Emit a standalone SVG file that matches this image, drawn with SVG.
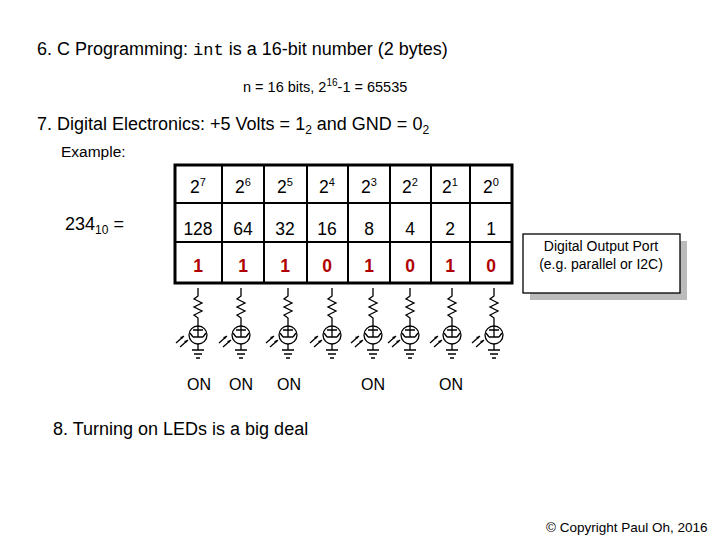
<svg xmlns="http://www.w3.org/2000/svg" width="720" height="540" viewBox="0 0 720 540">
<defs>
<style>
text{font-family:"Liberation Sans",Arial,sans-serif;fill:#000}
.h{font-size:18px}
.s{font-size:14.5px}
.c{font-size:17.5px;text-anchor:middle}
.r{fill:#b00000;font-weight:bold}
.w{fill:none;stroke:#000;stroke-width:1.3}
</style>
<g id="led">
<path class="w" d="M0,288 V296 L-4,299 L4,303 L-4,307 L4,311 L-4,315 L0,318 V326"/>
<circle class="w" cx="0" cy="335" r="9"/>
<path class="w" d="M-5,330 H5 M0,326 V330 M0,330 V337 M-5,337 H5 M0,344 V350 M-6,350 H6 M-4,354 H4 M-2,358 H2"/>
<path class="w" d="M-5,337 L-8,333 M5,337 L8,333"/>
<path class="w" d="M-22,343 L-14,336 M-18,347 L-10,340"/>
<path d="M-14,336 l-4,1 l2,2 z M-10,340 l-4,1 l2,2z" fill="#000"/>
</g>
</defs>
<rect width="720" height="540" fill="#fff"/>
<text x="37" y="55" class="h">6. C Programming: <tspan font-family="Liberation Mono,monospace" font-size="17">int</tspan> is a 16-bit number (2 bytes)</text>
<text x="243" y="92" class="s">n = 16 bits, 2<tspan font-size="10" dy="-6">16</tspan><tspan dy="6">-1 = 65535</tspan></text>
<text x="37" y="130" class="h">7. Digital Electronics: +5 Volts = 1<tspan font-size="12" dy="4">2</tspan><tspan dy="-4"> and GND = 0</tspan><tspan font-size="12" dy="4">2</tspan></text>
<text x="61" y="157" class="s" style="font-size:15.5px">Example:</text>
<text x="65" y="230" class="h">234<tspan font-size="12" dy="4">10</tspan><tspan dy="-4"> =</tspan></text>
<g id="table">
<rect x="175" y="165" width="337" height="118" fill="#fff" stroke="#000" stroke-width="3"/>
<path stroke="#000" stroke-width="2" d="M222,165V283M264,165V283M307,165V283M348,165V283M390,165V283M431,165V283M470,165V283M175,203H512M175,242H512"/>
<g class="c">
<text x="198" y="193">2<tspan font-size="11" dy="-7">7</tspan></text>
<text x="243" y="193">2<tspan font-size="11" dy="-7">6</tspan></text>
<text x="285" y="193">2<tspan font-size="11" dy="-7">5</tspan></text>
<text x="327" y="193">2<tspan font-size="11" dy="-7">4</tspan></text>
<text x="369" y="193">2<tspan font-size="11" dy="-7">3</tspan></text>
<text x="410" y="193">2<tspan font-size="11" dy="-7">2</tspan></text>
<text x="450" y="193">2<tspan font-size="11" dy="-7">1</tspan></text>
<text x="491" y="193">2<tspan font-size="11" dy="-7">0</tspan></text>
<text x="198" y="235">128</text><text x="243" y="235">64</text><text x="285" y="235">32</text><text x="327" y="235">16</text>
<text x="369" y="235">8</text><text x="410" y="235">4</text><text x="450" y="235">2</text><text x="491" y="235">1</text>
<text class="r" x="198" y="272">1</text><text class="r" x="243" y="272">1</text><text class="r" x="285" y="272">1</text><text class="r" x="327" y="272">0</text>
<text class="r" x="369" y="272">1</text><text class="r" x="410" y="272">0</text><text class="r" x="450" y="272">1</text><text class="r" x="491" y="272">0</text>
</g>
</g>
<g id="leds">
<use href="#led" x="198"/><use href="#led" x="241"/><use href="#led" x="288"/><use href="#led" x="332"/>
<use href="#led" x="373"/><use href="#led" x="410"/><use href="#led" x="452"/><use href="#led" x="494"/>
</g>
<g>
<text x="199" y="390" text-anchor="middle" font-size="16">ON</text><text x="241" y="390" text-anchor="middle" font-size="16">ON</text><text x="289" y="390" text-anchor="middle" font-size="16">ON</text>
<text x="373" y="390" text-anchor="middle" font-size="16">ON</text><text x="451" y="390" text-anchor="middle" font-size="16">ON</text>
</g>
<g id="port">
<rect x="530" y="241" width="157" height="59" fill="#bbb"/>
<rect x="523" y="234" width="157" height="59" fill="#fff" stroke="#000" stroke-width="1.3"/>
<text x="601" y="251" font-size="14" text-anchor="middle">Digital Output Port</text>
<text x="601" y="269" font-size="14" text-anchor="middle">(e.g. parallel or I2C)</text>
</g>
<text x="53" y="435" class="h">8. Turning on LEDs is a big deal</text>
<text x="546" y="532" font-size="13.5">© Copyright Paul Oh, 2016</text>
</svg>
